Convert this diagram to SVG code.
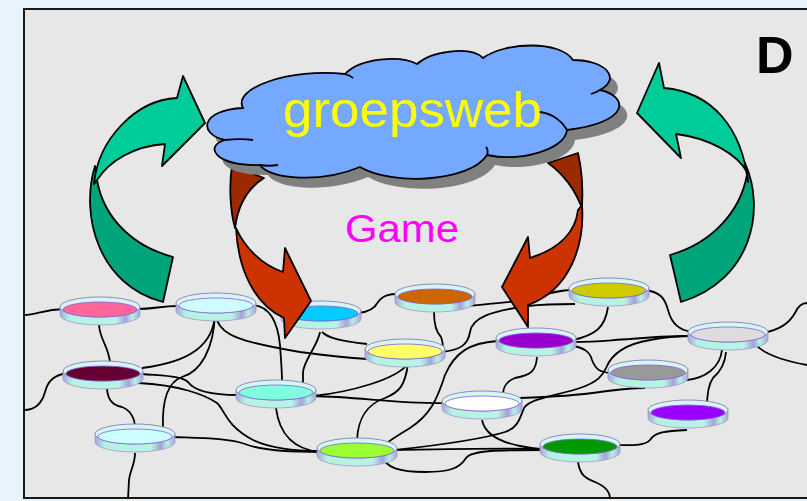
<svg xmlns="http://www.w3.org/2000/svg" xmlns:xlink="http://www.w3.org/1999/xlink" width="807" height="501" viewBox="0 0 807 501">
<style>
.c{fill:none;stroke:#000;stroke-width:1.8}
.ol{stroke:#000;stroke-width:1.8;stroke-linejoin:round}
.rim{fill:#D6F6F6;stroke:#8C8CB8;stroke-width:1}
.band{fill:url(#bandg);stroke:#9C9CC4;stroke-width:0.8}
.in{stroke:#8A5AD8;stroke-width:0.8}
.t{font-family:"Liberation Sans",Arial,sans-serif}
</style>
<defs>
<linearGradient id="bandg" x1="0" y1="0" x2="1" y2="0">
<stop offset="0" stop-color="#A8A6DE"/>
<stop offset="0.12" stop-color="#B4F2E2"/>
<stop offset="0.7" stop-color="#B8F4E4"/>
<stop offset="0.82" stop-color="#A4A2DA"/>
<stop offset="0.9" stop-color="#B8F0E4"/>
<stop offset="1" stop-color="#A8A6DE"/>
</linearGradient>
<g id="disk">
<path class="band" d="M-40,-4 L-40,4 A40,10 0 0 0 40,4 L40,-4 Z"/>
<ellipse class="rim" cx="0" cy="-4" rx="40" ry="10"/>
</g>
<path id="cloudp" d="M243,108 C232,88 290,68 345,74 C360,58 400,55 417,64 C430,52 470,45 483,58 C505,42 560,40 573,60 C605,60 622,78 600,90 C628,96 632,122 567,130 C565,150 520,162 487,155 C470,182 392,186 360,167 C322,183 270,180 260,165 C214,166 204,146 225,140 C198,134 200,110 243,108 Z"/>
</defs>
<rect x="0" y="0" width="807" height="501" fill="#E8F4FD"/>
<rect x="24" y="9" width="800" height="489" fill="#E7E7E7" stroke="#1A1A1A" stroke-width="2"/>
<g id="connectors">
<path class="c" d="M24,315 C38,315 42,309 65,309"/>
<path class="c" d="M137,309 C155,309 160,306 178,306"/>
<path class="c" d="M99,325 C100,340 108,345 110,362"/>
<path class="c" d="M215,313 C214,345 190,362 142,368"/>
<path class="c" d="M215,313 C214,350 200,372 182,377 C168,382 162,400 163,428"/>
<path class="c" d="M217,320 C222,335 240,342 300,352 C330,356 350,358 367,359"/>
<path class="c" d="M252,305 C272,306 278,325 280,345 C281,360 282,370 282,382"/>
<path class="c" d="M142,374 C165,376 182,376 188,382 C195,392 215,395 238,395"/>
<path class="c" d="M138,383 C180,385 205,395 217,403 C225,410 225,425 253,440 C270,448 295,451 320,451"/>
<path class="c" d="M67,373 C55,375 48,380 45,392 C42,403 35,410 24,410"/>
<path class="c" d="M107,387 C107,397 110,405 122,407 C130,410 135,418 135,428"/>
<path class="c" d="M173,437 C200,438 230,438 245,444 C260,450 290,452 320,452"/>
<path class="c" d="M135,453 C135,465 130,470 129,480 L128,499"/>
<path class="c" d="M276,408 C280,440 300,450 320,452"/>
<path class="c" d="M358,313 C370,312 375,308 378,302 C383,295 390,294 398,294"/>
<path class="c" d="M320,332 C318,345 304,360 303,372 L303,386"/>
<path class="c" d="M322,332 C328,338 340,341 367,344"/>
<path class="c" d="M313,396 C350,392 395,380 408,364"/>
<path class="c" d="M313,396 C360,397 400,404 447,403"/>
<path class="c" d="M408,364 C405,385 400,392 385,398 C365,405 358,420 357,440"/>
<path class="c" d="M434,312 C434,325 436,332 441,337 C443,342 443,346 443,350"/>
<path class="c" d="M442,352 C460,350 468,345 470,332 C472,318 490,311 528,306 C545,304 560,304 575,304"/>
<path class="c" d="M465,306 C490,304 510,302 525,300 C545,295 555,290 573,290"/>
<path class="c" d="M497,341 C470,343 455,352 445,375 C437,400 430,415 410,428 C395,437 385,444 380,448"/>
<path class="c" d="M537,357 C536,372 530,375 515,378 C505,382 503,388 503,395"/>
<path class="c" d="M520,398 C550,397 580,395 600,392 C615,390 630,388 645,388"/>
<path class="c" d="M395,450 C440,445 480,440 505,432 C518,428 520,418 524,408 C530,398 560,395 580,388 C598,382 603,375 606,368 C610,358 620,345 650,340 C665,337 680,336 690,336"/>
<path class="c" d="M573,342 C600,342 610,340 630,339 C650,337 670,336 690,336"/>
<path class="c" d="M570,345 C585,348 590,352 592,360 C596,370 600,372 610,373"/>
<path class="c" d="M573,340 C595,335 605,328 608,307"/>
<path class="c" d="M645,290 C660,292 665,298 668,310 C672,325 680,330 692,332"/>
<path class="c" d="M763,333 C780,330 790,322 795,313 C798,306 803,303 807,303"/>
<path class="c" d="M753,340 C758,352 780,360 807,365"/>
<path class="c" d="M722,350 C720,368 705,378 687,380"/>
<path class="c" d="M726,352 C725,365 720,372 713,378 C708,385 707,395 707,407"/>
<path class="c" d="M687,430 C665,431 655,432 650,440 C645,446 630,445 618,445"/>
<path class="c" d="M578,462 C580,475 585,478 595,482 C605,486 610,492 610,499"/>
<path class="c" d="M482,420 C485,435 500,442 520,446 C530,448 535,449 543,449"/>
<path class="c" d="M393,450 C450,449 500,448 543,449"/>
<path class="c" d="M382,455 C385,468 400,472 425,472 C450,472 460,468 466,458 C472,450 500,450 543,450"/>
</g>
<g id="n-pink" transform="translate(100,311)"><use href="#disk"/><ellipse class="in" cx="0" cy="-1.5" rx="37" ry="7.5" fill="#FF6699"/></g>
<g id="n-lightcyan1" transform="translate(216,307)"><use href="#disk"/><ellipse class="in" cx="0" cy="-1.5" rx="37" ry="7.5" fill="#CCFFFF"/></g>
<g id="n-maroon" transform="translate(103,375)"><use href="#disk"/><ellipse class="in" cx="0" cy="-1.5" rx="37" ry="7.5" fill="#660033"/></g>
<g id="n-lightcyan2" transform="translate(135,438)"><use href="#disk"/><ellipse class="in" cx="0" cy="-1.5" rx="37" ry="7.5" fill="#CCFFFF"/></g>
<g id="n-aquamarine" transform="translate(276,394)"><use href="#disk"/><ellipse class="in" cx="0" cy="-1.5" rx="37" ry="7.5" fill="#80FFDD"/></g>
<g id="n-cyan" transform="translate(321,315)"><use href="#disk"/><ellipse class="in" cx="0" cy="-1.5" rx="37" ry="7.5" fill="#00CCFF"/></g>
<g id="n-orange" transform="translate(435,298)"><use href="#disk"/><ellipse class="in" cx="0" cy="-1.5" rx="37" ry="7.5" fill="#CC6600"/></g>
<g id="n-yellow" transform="translate(405,353)"><use href="#disk"/><ellipse class="in" cx="0" cy="-1.5" rx="37" ry="7.5" fill="#FFFF66"/></g>
<g id="n-purple" transform="translate(536,342)"><use href="#disk"/><ellipse class="in" cx="0" cy="-1.5" rx="37" ry="7.5" fill="#9900CC"/></g>
<g id="n-white" transform="translate(482,405)"><use href="#disk"/><ellipse class="in" cx="0" cy="-1.5" rx="37" ry="7.5" fill="#FFFFFF"/></g>
<g id="n-lime" transform="translate(357,452)"><use href="#disk"/><ellipse class="in" cx="0" cy="-1.5" rx="37" ry="7.5" fill="#99FF33"/></g>
<g id="n-olive" transform="translate(609,292)"><use href="#disk"/><ellipse class="in" cx="0" cy="-1.5" rx="37" ry="7.5" fill="#CCCC00"/></g>
<g id="n-lightgray" transform="translate(728,336)"><use href="#disk"/><ellipse class="in" cx="0" cy="-1.5" rx="37" ry="7.5" fill="#DDDDDD"/></g>
<g id="n-gray" transform="translate(648,374)"><use href="#disk"/><ellipse class="in" cx="0" cy="-1.5" rx="37" ry="7.5" fill="#999999"/></g>
<g id="n-violet" transform="translate(688,414)"><use href="#disk"/><ellipse class="in" cx="0" cy="-1.5" rx="37" ry="7.5" fill="#9900FF"/></g>
<g id="n-green" transform="translate(580,448)"><use href="#disk"/><ellipse class="in" cx="0" cy="-1.5" rx="37" ry="7.5" fill="#009900"/></g>
<g id="arrow-green-left">
<path class="ol" fill="#00A57B" d="M95,166 C80,215 98,285 163,302 L173,257 C135,247 104,220 97,180 Z"/>
<path class="ol" fill="#00CC99" d="M94,184 C98,140 135,100 177,98 L183,76 L205,123 L162,166 L165,144 C135,146 110,160 97,180 Z"/>
</g>
<g id="arrow-green-right">
<path class="ol" fill="#00A57B" d="M745,163 C766,210 752,280 681,302 L670,255 C712,243 740,212 747,175 Z"/>
<path class="ol" fill="#00CC99" d="M748,182 C742,128 712,92 664,88 L659,63 L637,113 L681,158 L676,134 C710,138 738,155 747,172 Z"/>
</g>
<g id="arrow-red-left">
<path class="ol" fill="#9C2A00" d="M232,166 L264,178 C248,188 238,205 235,228 C230,210 229,185 232,166 Z"/>
<path class="ol" fill="#CC3300" d="M236,228 C238,270 255,305 284,318 L285,338 L311,301 L285,248 L283,272 C262,265 245,248 236,228 Z"/>
</g>
<g id="arrow-red-right">
<path class="ol" fill="#9C2A00" d="M548,163 L578,153 C582,170 583,190 582,208 C575,190 565,175 548,163 Z"/>
<path class="ol" fill="#CC3300" d="M582,205 C585,245 570,290 528,305 L528,327 L502,287 L528,237 L530,258 C555,250 575,235 578,210 Z"/>
</g>
<g id="cloud">
<use href="#cloudp" transform="translate(8,10)" fill="#808080"/>
<use href="#cloudp" fill="#75A9FF" stroke="#000" stroke-width="1.8"/>
<path class="c" d="M567,130 C560,118 548,112 537,112 M600,90 C597,92 594,93 591,94 M487,155 C488,152 488,149 486,147 M260,165 C266,166 272,166 278,165 M225,140 C235,139 245,139 253,140 M345,74 C348,75 351,76 353,78"/>
<text class="t" x="283" y="127" font-size="50" fill="#FFFF00" textLength="259" lengthAdjust="spacingAndGlyphs">groepsweb</text>
</g>
<text class="t" x="345" y="242" font-size="38" fill="#FF00FF" textLength="114" lengthAdjust="spacingAndGlyphs">Game</text>
<text class="t" x="756" y="73" font-size="52" font-weight="bold" fill="#000">D</text>
</svg>
